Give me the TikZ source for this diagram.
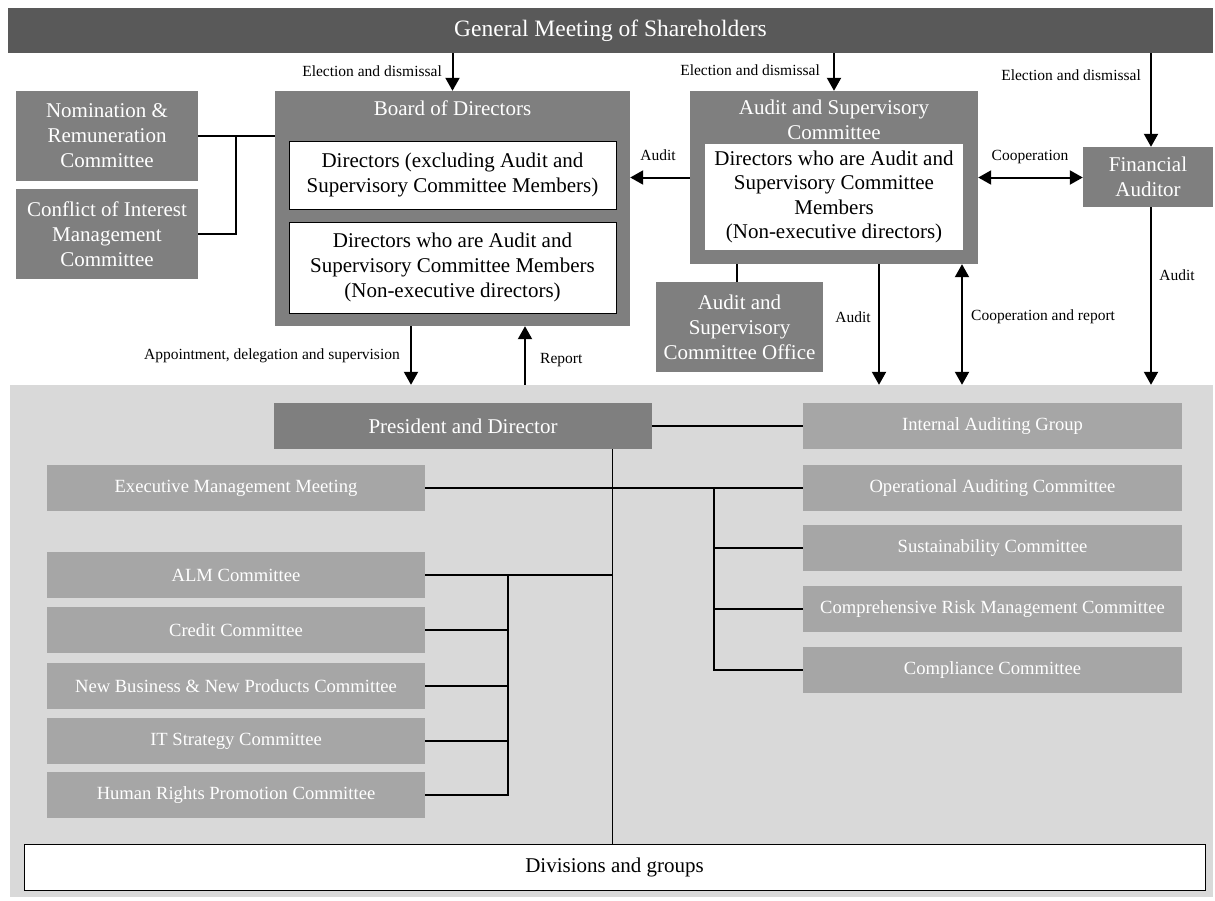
\documentclass[tikz,border=0pt]{standalone}
\usepackage{fontspec}
\setmainfont{Liberation Serif}
\usetikzlibrary{arrows.meta,calc}
\definecolor{topgray}{HTML}{595959}
\definecolor{midgray}{HTML}{7F7F7F}
\definecolor{lightbox}{HTML}{A6A6A6}
\definecolor{regiongray}{HTML}{D9D9D9}
\tikzset{
  darkbox/.style={rectangle,fill=midgray,draw=none,inner sep=0pt,text=white,align=center,font=\fontsize{21}{25}\selectfont},
  whitebox/.style={rectangle,fill=white,draw=black,line width=1pt,inner sep=0pt,text=black,align=center,font=\fontsize{21}{25}\selectfont},
  litebox/.style={rectangle,fill=lightbox,draw=none,inner sep=0pt,text=white,align=center,minimum width=378pt,minimum height=46pt,font=\fontsize{18.6}{21}\selectfont},
  elabel/.style={inner sep=1pt,font=\fontsize{15.5}{18}\selectfont,text=black},
  arr/.style={line width=2pt,-{Triangle[length=13pt,width=14pt]}},
  darr/.style={line width=2pt,{Triangle[length=13pt,width=14pt]}-{Triangle[length=13pt,width=14pt]}},
  conn/.style={line width=1.8pt},
  thickconn/.style={line width=2.6pt},
  thinconn/.style={line width=1.3pt}
}
\begin{document}
\begin{tikzpicture}[x=1pt,y=-1pt]
\useasboundingbox (0,0) rectangle (1215,900);
% background region
\node[rectangle,fill=regiongray,draw=none,minimum width=1203pt,minimum height=512pt,inner sep=0pt] (region) at (611.5,641) {};
% top bar
\node[rectangle,fill=topgray,draw=none,minimum width=1205pt,minimum height=45pt,inner sep=0pt,text=white,font=\fontsize{23.5}{26}\selectfont] (gm) at (610.5,30.5) {General Meeting of Shareholders};
% board of directors
\node[darkbox,minimum width=355pt,minimum height=235pt] (board) at (452.5,208.5) {};
\node[text=white,font=\fontsize{21}{25}\selectfont,inner sep=0pt] (boardt) at (452.5,108) {Board of Directors};
\node[whitebox,minimum width=327pt,minimum height=68pt] (bd1) at (452.5,175) {Directors (excluding Audit and\\Supervisory Committee Members)};
\node[whitebox,minimum width=327pt,minimum height=91pt] (bd2) at (452.5,267.5) {Directors who are Audit and\\Supervisory Committee Members\\(Non-executive directors)};
% left committees
\node[darkbox,minimum width=182pt,minimum height=90pt] (nom) at (107,136) {Nomination \&\\Remuneration\\Committee};
\node[darkbox,minimum width=182pt,minimum height=90pt] (conf) at (107,234) {Conflict of Interest\\Management\\Committee};
% audit and supervisory committee
\node[darkbox,minimum width=288pt,minimum height=173pt] (asc) at (834,177.5) {};
\node[text=white,align=center,font=\fontsize{21}{25}\selectfont,inner sep=0pt] (asct) at (834,120) {Audit and Supervisory\\Committee};
\node[rectangle,fill=white,draw=none,inner sep=0pt,align=center,minimum width=258pt,minimum height=106pt,font=\fontsize{21}{24.5}\selectfont] (ascin) at (834,197) {Directors who are Audit and\\Supervisory Committee\\Members\\(Non-executive directors)};
% financial auditor
\node[darkbox,minimum width=130pt,minimum height=60pt] (fa) at (1148,177) {Financial\\Auditor};
% office
\node[darkbox,minimum width=167pt,minimum height=90pt] (office) at (739.5,327) {Audit and\\Supervisory\\Committee Office};
% president
\node[darkbox,minimum width=378pt,minimum height=46pt] (pres) at (463,426) {President and Director};
% right committees
\node[litebox,minimum width=379pt] (iag) at (992.5,426) {Internal Auditing Group};
\node[litebox,minimum width=379pt] (oac) at (992.5,488) {Operational Auditing Committee};
\node[litebox,minimum width=379pt] (sus) at (992.5,548) {Sustainability Committee};
\node[litebox,minimum width=379pt] (crm) at (992.5,609) {Comprehensive Risk Management Committee};
\node[litebox,minimum width=379pt] (cmp) at (992.5,670) {Compliance Committee};
% left committees
\node[litebox] (emm) at (236,488) {Executive Management Meeting};
\node[litebox] (alm) at (236,575) {ALM Committee};
\node[litebox] (cred) at (236,630) {Credit Committee};
\node[litebox] (nb) at (236,686) {New Business \& New Products Committee};
\node[litebox] (it) at (236,741) {IT Strategy Committee};
\node[litebox] (hr) at (236,795) {Human Rights Promotion Committee};
% divisions
\node[rectangle,fill=white,draw=black,line width=1pt,minimum width=1181pt,minimum height=46pt,inner sep=0pt,font=\fontsize{21}{25}\selectfont] (div) at (614.5,867) {Divisions and groups};

% ---- connectors ----
\draw[arr] (gm.south -| board.north) -- (board.north);
\draw[arr] (gm.south -| asc.north) -- (asc.north);
\draw[arr] ([xshift=3pt]gm.south -| fa.north) -- ([xshift=3pt]fa.north);
\node[elabel,anchor=east] (el1) at (443,71) {Election and dismissal};
\node[elabel,anchor=east] (el2) at (821,70) {Election and dismissal};
\node[elabel,anchor=east] (el3) at (1142,75) {Election and dismissal};

\draw[arr] (asc.west) -- (asc.west -| board.east);
\node[elabel] (lauditl) at (658,155) {Audit};
\draw[darr] (asc.east) -- (asc.east -| fa.west);
\node[elabel] (lcoop) at (1030,157) {Cooperation};

\draw[conn] (office.north -| 737,0) -- (asc.south -| 737,0);

\coordinate (ad1) at ([xshift=45pt]asc.south);
\draw[arr] (ad1) -- (ad1 |- region.north);
\node[elabel] (lauditd) at (853,317) {Audit};
\coordinate (cr1) at ([xshift=128pt]asc.south);
\draw[darr] (cr1) -- (cr1 |- region.north);
\node[elabel,anchor=west] (lcr) at (970,317) {Cooperation and report};
\coordinate (fa1) at ([xshift=3pt]fa.south);
\draw[arr] (fa1) -- (fa1 |- region.north);
\node[elabel] (lfa) at (1177,275) {Audit};

\coordinate (bd1c) at ([xshift=-41.5pt]board.south);
\draw[arr] (bd1c) -- (bd1c |- region.north);
\node[elabel,anchor=east] (lapp) at (401,356) {Appointment, delegation and supervision};
\coordinate (bd2c) at ([xshift=72.5pt]board.south);
\draw[arr] (bd2c |- region.north) -- (bd2c);
\node[elabel,anchor=west] (lrep) at (539,360) {Report};

% board to left committees
\draw[conn] (board.west |- nom.east) -- (nom.east);
\coordinate (j1) at (236,136);
\draw[conn] (j1) |- (conf.east);

% president lines
\draw[thickconn] (pres.east) -- (iag.west);
\coordinate (pv) at ([xshift=149.5pt]pres.south);
\draw[thinconn] (pv) -- (pv |- div.north);

% executive management meeting to right committees
\draw[thinconn,line width=1.6pt] (emm.east) -- (oac.west);
\coordinate (rj) at (714,488);
\draw[conn] (rj) |- (cmp.west);
\draw[conn] (rj |- sus.west) -- (sus.west);
\draw[conn] (rj |- crm.west) -- (crm.west);

% ALM group
\draw[thickconn] (alm.east) -- (pv |- alm.east);
\coordinate (lj) at (508,575);
\draw[thickconn] (lj) |- (hr.east);
\draw[conn] (lj |- cred.east) -- (cred.east);
\draw[conn] (lj |- nb.east) -- (nb.east);
\draw[thickconn] (lj |- it.east) -- (it.east);
\end{tikzpicture}
\end{document}
